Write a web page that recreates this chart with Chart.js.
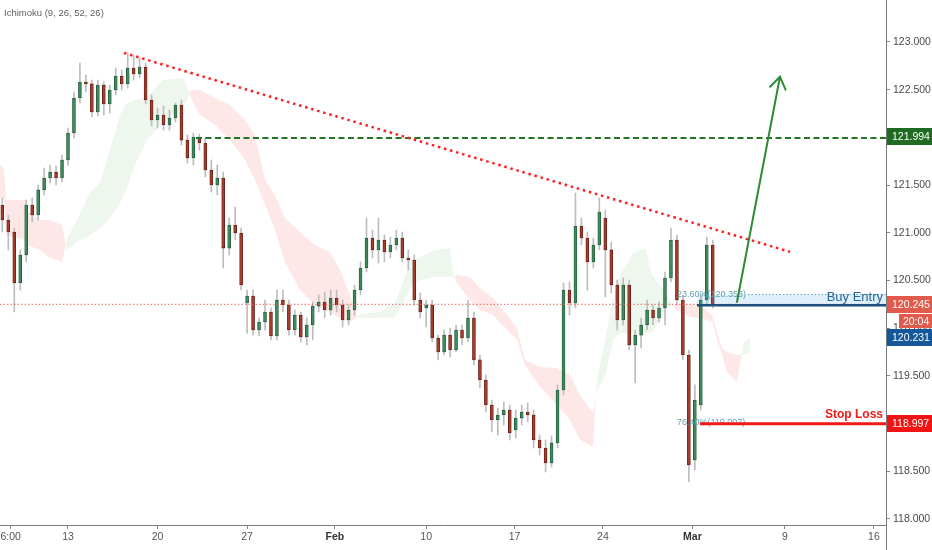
<!DOCTYPE html>
<html>
<head>
<meta charset="utf-8">
<script src="https://cdn.jsdelivr.net/npm/chart.js@4.4.1/dist/chart.umd.min.js"></script>
<style>
html,body{margin:0;padding:0;background:#fff;}
#wrap{width:932px;height:550px;position:relative;}
</style>
</head>
<body>
<div id="wrap"><canvas id="c" width="932" height="550"></canvas></div>
<script>
// ---- DATA (8-hour candles, slot index 0 = Mon 13 Jan) ----
const firstSlot = -11;
const opens = [
121.291,121.134,121.008,120.474,120.767,121.291,121.186,121.449,121.574,121.637,
121.574,121.763,122.046,122.413,122.580,122.560,122.266,122.549,122.350,122.497,
122.643,122.560,122.727,122.664,122.738,122.392,122.182,122.235,122.130,122.203,
122.339,121.972,121.784,122.004,121.941,121.658,121.501,121.574,120.840,121.082,
120.998,120.264,120.337,119.981,120.065,120.170,119.918,120.295,120.243,119.981,
120.138,119.908,120.033,120.232,120.274,120.191,120.316,120.243,120.086,120.191,
120.400,120.631,120.945,120.820,120.924,120.799,120.872,120.945,120.736,120.715,
120.295,120.212,120.243,119.897,119.750,119.928,119.771,119.981,119.897,120.107,
119.667,119.457,119.195,119.038,119.090,119.142,118.933,119.058,119.121,119.090,
118.828,118.744,118.587,118.797,119.352,120.400,120.264,121.071,120.945,120.694,
120.872,121.155,120.820,120.453,120.086,120.453,119.824,119.928,120.033,120.191,
120.107,120.212,120.526,120.924,120.295,119.719,118.618,119.195,120.295,120.872];
const highs = [
121.365,121.186,121.050,120.820,121.344,121.365,121.501,121.679,121.710,121.700,
121.815,122.098,122.476,122.780,122.654,122.601,122.601,122.580,122.549,122.727,
122.706,122.884,122.863,122.832,122.780,122.444,122.308,122.329,122.287,122.360,
122.392,122.025,122.046,122.035,121.993,121.763,121.710,121.637,121.155,121.270,
121.050,120.400,120.400,120.107,120.295,120.212,120.400,120.400,120.295,120.191,
120.170,120.107,120.274,120.348,120.379,120.400,120.400,120.295,120.243,120.453,
120.694,121.155,121.029,121.155,120.977,120.956,121.029,121.008,120.820,120.767,
120.369,120.295,120.295,119.928,119.981,120.001,120.033,120.033,120.295,120.170,
119.719,119.510,119.247,119.163,119.226,119.195,119.142,119.195,119.216,119.142,
118.880,118.828,118.870,119.405,120.474,120.484,121.417,121.155,121.008,120.945,
121.365,121.239,120.903,120.505,120.526,120.505,119.981,120.107,120.295,120.243,
120.274,120.589,121.050,120.977,120.348,119.771,119.405,120.348,120.956,120.924];
const lows = [
121.008,120.820,120.170,120.400,120.694,121.113,121.134,121.396,121.522,121.501,
121.532,121.710,121.993,122.360,122.476,122.214,122.224,122.235,122.256,122.444,
122.497,122.518,122.601,122.622,122.350,122.119,122.098,122.077,122.077,122.161,
121.920,121.731,121.710,121.868,121.585,121.427,121.396,120.631,120.767,120.924,
120.400,119.949,119.928,119.918,119.981,119.876,119.876,120.170,119.928,119.928,
119.855,119.824,119.876,120.170,120.107,120.138,120.170,120.012,120.033,120.138,
120.348,120.589,120.736,120.683,120.694,120.736,120.820,120.694,120.610,120.243,
120.107,120.012,119.855,119.667,119.719,119.698,119.750,119.824,119.855,119.614,
119.373,119.121,118.912,118.880,118.985,118.828,118.849,118.985,119.017,118.744,
118.671,118.493,118.545,118.744,119.300,120.138,120.212,120.872,120.400,120.631,
120.820,120.327,120.369,119.981,120.033,119.771,119.426,119.792,119.981,120.033,
120.065,120.033,120.484,120.243,119.667,118.388,118.514,119.142,120.243,120.212];
const closes = [
121.134,121.008,120.474,120.767,121.291,121.186,121.449,121.574,121.637,121.574,
121.763,122.046,122.413,122.580,122.560,122.266,122.549,122.350,122.497,122.643,
122.560,122.727,122.664,122.738,122.392,122.182,122.235,122.130,122.203,122.339,
121.972,121.784,122.004,121.941,121.658,121.501,121.574,120.840,121.082,120.998,
120.453,120.337,119.981,120.065,120.170,119.918,120.295,120.243,119.981,120.138,
119.908,120.033,120.232,120.274,120.191,120.316,120.243,120.086,120.191,120.400,
120.631,120.945,120.820,120.924,120.799,120.872,120.945,120.736,120.715,120.295,
120.170,120.243,119.897,119.750,119.928,119.771,119.981,119.897,120.107,119.667,
119.457,119.195,119.038,119.090,119.142,118.901,119.058,119.121,119.090,118.828,
118.744,118.587,118.797,119.352,120.400,120.264,121.071,120.945,120.694,120.872,
121.218,120.820,120.453,120.086,120.453,119.824,119.928,120.033,120.191,120.107,
120.212,120.526,120.924,120.295,119.719,118.566,119.247,120.295,120.872,120.245];

// Ichimoku cloud (Senkou Span A / B), read at breakpoints
const cloudSlots = [-11.39,-10.72,-10.39,-7.20,-6.87,-4.69,-3.02,-1.00,
-0.17,1.51,3.69,5.36,7.04,8.71,9.88,11.22,13.23,15.91,19.26,20.27,
20.60,22.11,24.62,27.14,29.65,31.32,33.00,34.67,36.35,38.86,41.37,43.89,45.56,47.24,48.41,
48.91,52.26,54.77,55.95,57.29,58.96,61.47,63.99,64.66,
64.99,67.34,69.01,71.19,73.54,75.21,76.55,79.06,81.91,84.09,85.76,87.94,
88.61,89.95,91.29,92.46,94.64,96.65,97.82,99.16,100.50,101.34,
101.84,104.19,105.86,107.87,109.55,110.39,112.06,112.73,
113.23,114.24];
const spanA = [121.365,121.365,120.977,120.924,120.872,120.820,120.736,120.694,
120.945,121.134,121.427,121.522,121.868,122.235,122.360,122.392,122.423,122.601,122.622,122.476,
122.413,122.235,122.130,121.972,121.763,121.553,121.291,121.029,120.694,120.400,120.243,120.170,120.107,120.065,120.107,
120.149,120.170,120.264,120.453,120.694,120.746,120.820,120.840,120.547,
120.484,120.295,120.191,120.138,119.981,119.876,119.614,119.383,119.195,119.038,118.828,118.755,
119.457,119.876,120.295,120.558,120.788,120.840,120.558,120.453,120.327,120.243,
120.191,120.117,120.107,120.065,119.719,119.541,119.436,119.687,
119.855,119.897];
const spanB = [121.710,121.679,121.344,121.344,121.239,121.134,121.134,121.082,
120.820,120.903,120.977,121.050,121.155,121.312,121.469,121.710,121.972,122.161,122.308,122.434,
122.497,122.497,122.413,122.339,122.182,122.025,121.553,121.396,121.155,121.008,120.872,120.799,120.610,120.348,120.128,
120.107,120.107,120.117,120.243,120.421,120.505,120.537,120.537,120.526,
120.558,120.537,120.421,120.316,120.138,120.001,119.667,119.593,119.583,119.510,119.300,119.111,
119.352,119.489,119.876,119.949,119.949,119.949,119.960,120.086,120.243,120.232,
120.253,120.253,120.243,120.138,119.792,119.750,119.719,119.719,
119.719,119.750];

// axis ticks
const xTickSlots = [-9.6, 0, 15, 30, 44.7, 60, 74.8, 89.6, 104.6, 120.1, 135];
const xTickLabels = ['6:00','13','20','27','Feb','10','17','24','Mar','9','16'];
const yTickValues = [118.0,118.5,119.0,119.5,120.0,120.5,121.0,121.5,122.0,122.5,123.0];

// drawings
const trendStart = {x: 9.38, y: 122.885};
const trendEnd = {x: 120.94, y: 120.800};
const resistanceStart = 21.44, resistanceLevel = 121.994;
const entryStart = 105.36, entryLevel = 120.245, fib236 = 120.353;
const stopStart = 105.86, stopLevel = 118.997, fib764 = 119.007;
const fibLabelSlot = 102.0;
const arrowStart = {x: 112.06, y: 120.275};
const arrowEnd = {x: 119.26, y: 122.635};
const lastPrice = 120.245, bidPrice = 120.231, countdown = '20:04';

// ---- CHART ----
const FONT = "'Liberation Sans Narrow', 'Liberation Sans', Arial, sans-serif";
const slots = opens.map((_, i) => firstSlot + i);
const isUp = opens.map((o, i) => closes[i] >= o);
const bodyData = slots.map((s, i) => ({x: s, y: [opens[i], closes[i]]}));
const wickData = slots.map((s, i) => ({x: s, y: [lows[i], highs[i]]}));
const aData = cloudSlots.map((s, i) => ({x: s, y: spanA[i]}));
const bData = cloudSlots.map((s, i) => ({x: s, y: spanB[i]}));

function seg(ctx, x1, y1, x2, y2) { ctx.beginPath(); ctx.moveTo(x1, y1); ctx.lineTo(x2, y2); ctx.stroke(); }

const overlay = {
  id: 'overlay',
  afterDatasetsDraw(chart) {
    const {ctx, chartArea: a, scales: {x, y}} = chart;
    const px = v => x.getPixelForValue(v), py = v => y.getPixelForValue(v);
    ctx.save();
    ctx.beginPath(); ctx.rect(a.left, a.top, a.right - a.left, a.bottom - a.top); ctx.clip();

    // last price dotted line
    ctx.setLineDash([1.5, 2]); ctx.lineWidth = 1; ctx.strokeStyle = 'rgba(232,90,80,0.9)';
    seg(ctx, a.left, py(lastPrice) - 0.5, a.right, py(lastPrice) - 0.5);

    // buy zone
    const zx = px(entryStart);
    ctx.setLineDash([]);
    ctx.fillStyle = 'rgba(66,165,245,0.17)';
    ctx.fillRect(zx, py(fib236), a.right - zx, py(entryLevel) - py(fib236));
    // fib labels
    ctx.font = "9px " + FONT; ctx.fillStyle = '#5f9fb0'; ctx.textBaseline = 'middle'; ctx.textAlign = 'left';
    const t1 = '23.60%(' + fib236.toFixed(3) + ')';
    ctx.fillText(t1, px(fibLabelSlot), py(fib236));
    const t1w = ctx.measureText(t1).width;
    ctx.setLineDash([1.5, 2]); ctx.strokeStyle = '#6aa8b8'; ctx.lineWidth = 1;
    seg(ctx, px(fibLabelSlot) + t1w + 2, py(fib236), a.right, py(fib236));
    ctx.setLineDash([]);
    ctx.fillText('76.40%(' + fib764.toFixed(3) + ')', px(fibLabelSlot), py(fib764));

    // entry line
    ctx.strokeStyle = '#1f4f7c'; ctx.lineWidth = 2.5;
    seg(ctx, zx, py(entryLevel) + 0.5, a.right, py(entryLevel) + 0.5);

    // stop loss line
    ctx.strokeStyle = '#f21818'; ctx.lineWidth = 3;
    seg(ctx, px(stopStart), py(stopLevel), a.right, py(stopLevel));

    // resistance dashed
    ctx.setLineDash([6, 3.5]); ctx.strokeStyle = '#237323'; ctx.lineWidth = 2;
    seg(ctx, px(resistanceStart), py(resistanceLevel), a.right, py(resistanceLevel));

    // descending trendline (dotted)
    ctx.setLineDash([2.5, 3.8]); ctx.strokeStyle = '#ff1f1f'; ctx.lineWidth = 2.5;
    seg(ctx, px(trendStart.x), py(trendStart.y), px(trendEnd.x), py(trendEnd.y));

    // arrow
    ctx.setLineDash([]); ctx.strokeStyle = '#2f8a36'; ctx.lineWidth = 2; ctx.lineCap = 'round';
    const sx = px(arrowStart.x), sy = py(arrowStart.y), ex = px(arrowEnd.x), ey = py(arrowEnd.y);
    seg(ctx, sx, sy, ex, ey);
    const ang = Math.atan2(sy - ey, sx - ex);
    const L = 14, w = 0.6;
    ctx.beginPath();
    ctx.moveTo(ex + L * Math.cos(ang - w), ey + L * Math.sin(ang - w));
    ctx.lineTo(ex, ey);
    ctx.lineTo(ex + L * Math.cos(ang + w), ey + L * Math.sin(ang + w));
    ctx.stroke();

    // texts
    ctx.textAlign = 'right'; ctx.textBaseline = 'alphabetic';
    ctx.font = "13px " + FONT; ctx.fillStyle = '#2a6596';
    ctx.fillText('Buy Entry', a.right - 3, py(entryLevel) - 4);
    ctx.font = "bold 12px " + FONT; ctx.fillStyle = '#f01a1a';
    ctx.fillText('Stop Loss', a.right - 3, py(stopLevel) - 6);
    ctx.restore();
  },
  afterDraw(chart) {
    const {ctx, chartArea: a, scales: {y}} = chart;
    const py = v => y.getPixelForValue(v);
    ctx.save();
    // axis line continues below
    ctx.strokeStyle = '#7a7a7a'; ctx.lineWidth = 1;
    seg(ctx, a.right + 0.5, a.bottom, a.right + 0.5, chart.height);
    ctx.font = "10.5px " + FONT; ctx.textBaseline = 'middle'; ctx.textAlign = 'left';
    function tag(yc, text, bg, x0) {
      ctx.fillStyle = bg; ctx.fillRect(x0, Math.round(yc - 8.5), chart.width - x0, 17);
      ctx.fillStyle = '#ffffff'; ctx.fillText(text, x0 + 5, yc + 0.5);
    }
    const e = py(lastPrice);
    tag(py(resistanceLevel) - 1, resistanceLevel.toFixed(3), '#1f6b22', a.right + 1);
    tag(e, lastPrice.toFixed(3), '#e25a4c', a.right + 1);
    ctx.fillStyle = '#e25a4c'; ctx.fillRect(a.right + 13, Math.round(e + 9.5), chart.width - a.right - 13, 14);
    ctx.fillStyle = '#fff'; ctx.fillText(countdown, a.right + 17, e + 17);
    tag(e + 33, bidPrice.toFixed(3), '#14589a', a.right + 1);
    tag(py(stopLevel), stopLevel.toFixed(3), '#f01414', a.right + 1);
    // indicator title
    ctx.font = "9.5px " + FONT; ctx.fillStyle = '#5e5e5e'; ctx.textAlign = 'left';
    ctx.fillText('Ichimoku (9, 26, 52, 26)', 4, 13);
    ctx.restore();
  }
};

new Chart(document.getElementById('c'), {
  type: 'bar',
  data: {
    datasets: [
      {type: 'bar', label: 'body', data: bodyData,
       backgroundColor: isUp.map(u => u ? '#3c8c5a' : '#a83a2c'),
       borderColor: isUp.map(u => u ? '#24553a' : '#5e1c14'),
       borderWidth: 0.8, borderSkipped: false, barThickness: 3, grouped: false, order: 0},
      {type: 'bar', label: 'wick', data: wickData, backgroundColor: '#bdbdbd',
       borderWidth: 0, barThickness: 1, grouped: false, order: 1},
      {type: 'line', label: 'spanA', data: aData, borderColor: 'rgba(0,0,0,0)', borderWidth: 1,
       pointRadius: 0, tension: 0,
       fill: {target: '+1', above: 'rgba(76,175,80,0.10)', below: 'rgba(244,67,54,0.12)'}, order: 2},
      {type: 'line', label: 'spanB', data: bData, borderColor: 'rgba(0,0,0,0)', borderWidth: 1,
       pointRadius: 0, tension: 0, fill: false, order: 3}
    ]
  },
  options: {
    responsive: false,
    animation: false,
    layout: {padding: 0},
    plugins: {legend: {display: false}, tooltip: {enabled: false}},
    scales: {
      x: {
        type: 'linear', min: -11.39, max: 137.02, offset: false,
        grid: {display: true, drawOnChartArea: false, drawTicks: true, tickLength: 4, color: '#8a8a8a', offset: false},
        border: {display: true, color: '#7a7a7a'},
        afterBuildTicks: s => { s.ticks = xTickSlots.map(v => ({value: v})); },
        afterFit: s => { s.height = 25; s.paddingLeft = 0; s.paddingRight = 0; },
        ticks: {
          autoSkip: false, maxRotation: 0, padding: 2,
          callback: (v, i) => xTickLabels[i],
          color: c => (xTickLabels[c.index] === 'Feb' || xTickLabels[c.index] === 'Mar') ? '#333' : '#555',
          font: c => ({family: FONT, size: 10.5, weight: (xTickLabels[c.index] === 'Feb' || xTickLabels[c.index] === 'Mar') ? 'bold' : 'normal'})
        }
      },
      y: {
        type: 'linear', position: 'right', min: 117.937, max: 123.440,
        grid: {display: true, drawOnChartArea: false, drawTicks: true, tickLength: 4, color: '#8a8a8a'},
        border: {display: true, color: '#7a7a7a'},
        afterBuildTicks: s => { s.ticks = yTickValues.map(v => ({value: v})); },
        afterFit: s => { s.width = 46; s.paddingTop = 0; s.paddingBottom = 0; },
        ticks: {
          padding: 3, color: '#4a4a4a',
          font: {family: FONT, size: 10.5},
          callback: v => Number(v).toFixed(3)
        }
      }
    }
  },
  plugins: [overlay]
});
</script>
</body>
</html>
